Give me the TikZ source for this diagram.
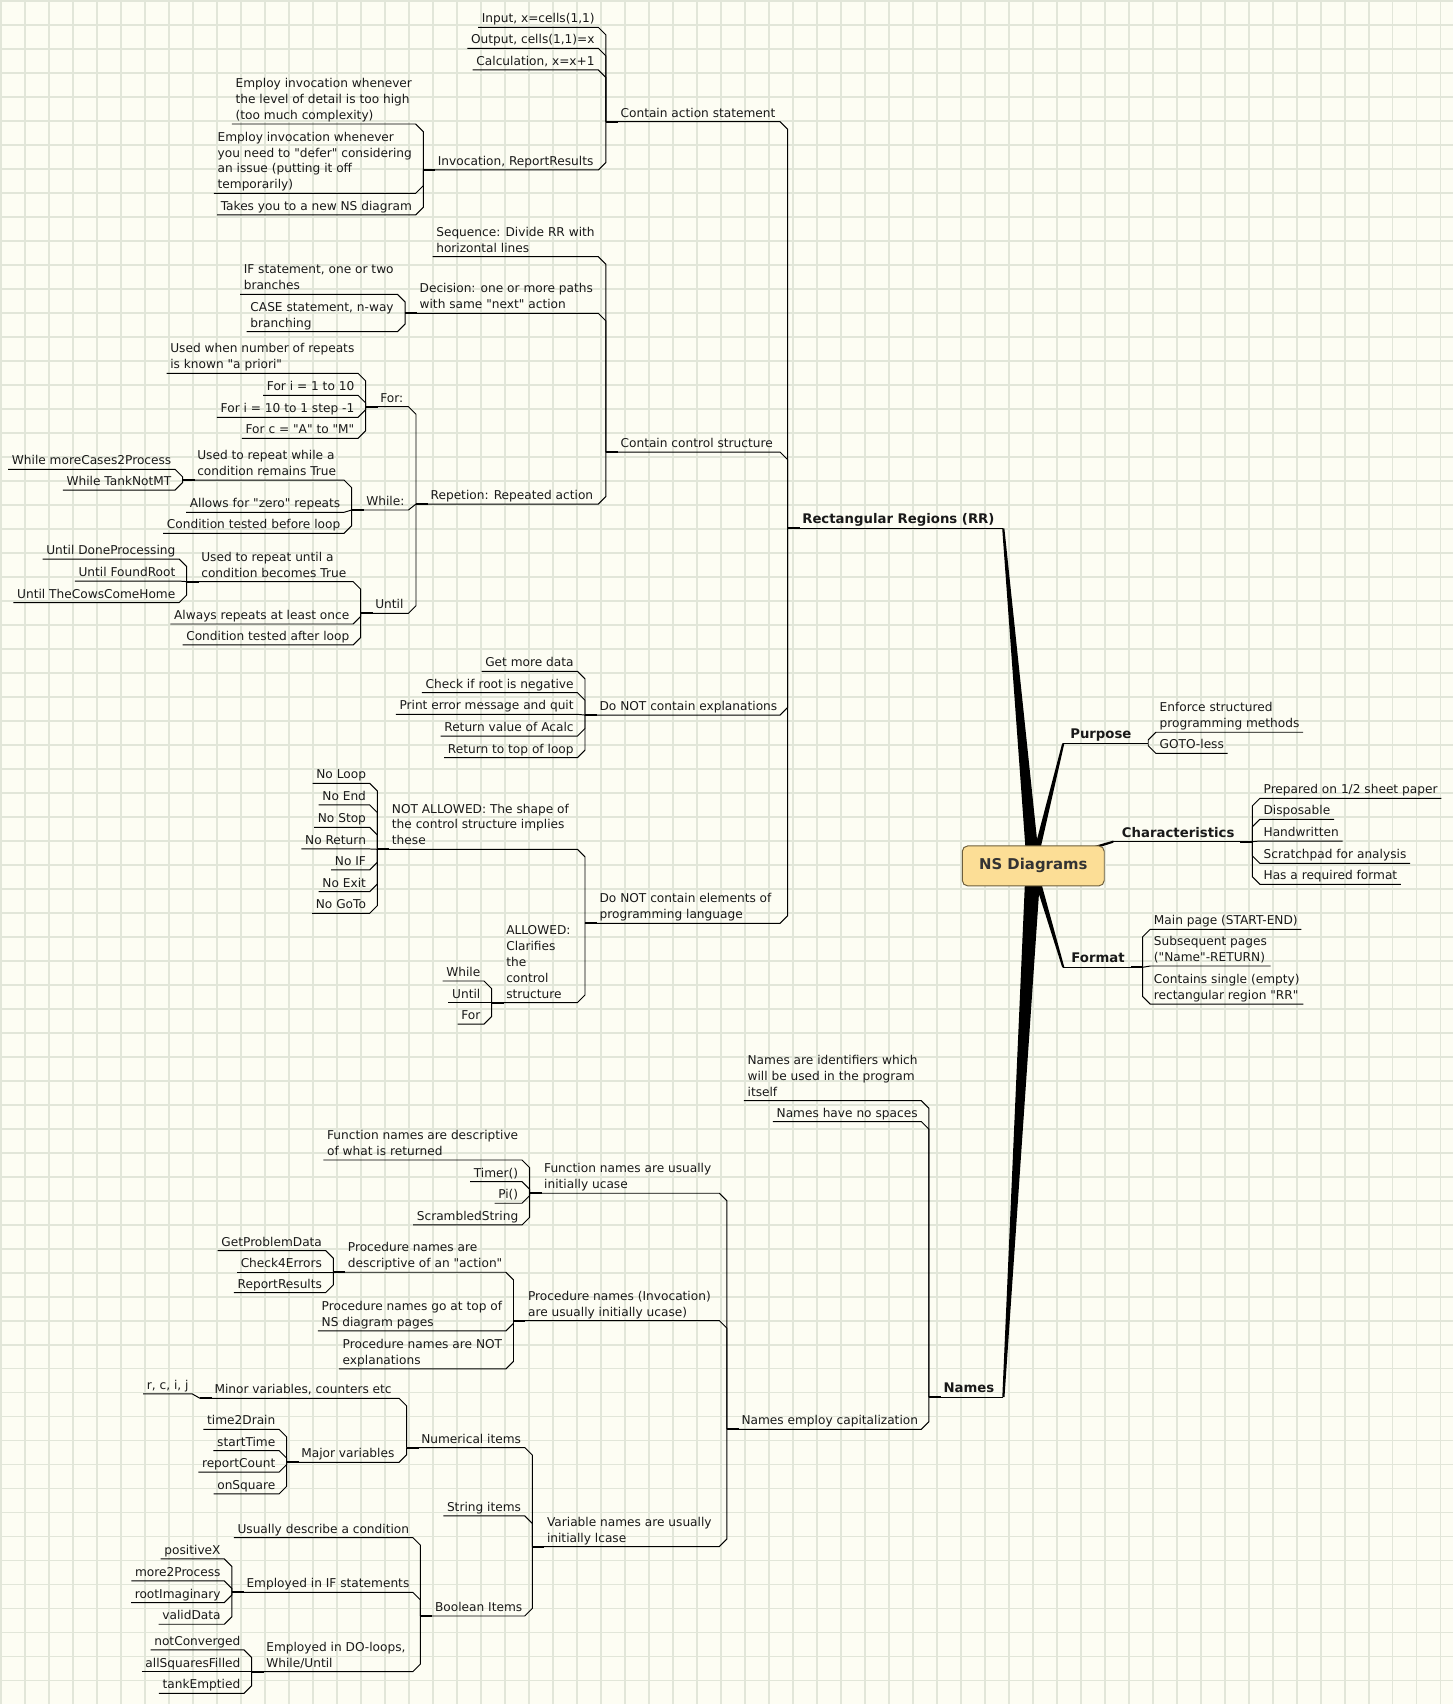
\documentclass[tikz,border=0pt]{standalone}
\usepackage{fontspec}
\setmainfont{DejaVu Sans}[Ligatures=TeXOff]
\usetikzlibrary{calc}

\definecolor{paper}{RGB}{253,253,243}
\definecolor{gridc}{RGB}{226,230,217}
\definecolor{boxfill}{RGB}{252,222,150}
\definecolor{boxline}{RGB}{110,95,60}
\newcommand{\lowstrut}{\rule[-3.7pt]{0pt}{3.7pt}}
\newcommand{\txt}{\fontsize{11.2}{14.6}\selectfont}
\newcommand{\topicfont}{\fontsize{12.2}{15}\selectfont\bfseries}

\tikzset{
    leaf/.style={inner xsep=3pt, inner ysep=0pt, align=left, font=\txt, text=black!90, execute at end node=\lowstrut},
    hub/.style={leaf, inner xsep=13pt},
    lleaf/.style={leaf, anchor=south east}, % child left of its parent
    rleaf/.style={leaf, anchor=south west}, % child right of its parent
    lhub/.style={hub, anchor=south west},
    topic/.style={hub, font=\topicfont},
    nsbox/.style={draw=boxline, fill=boxfill, rounded corners=5pt, line width=0.9pt, minimum width=130.6pt, minimum height=36.8pt, font=\fontsize{13.7}{16}\selectfont\bfseries, text=black!80},
    stub/.style={line width=1.8pt},
    % underline of a child, bevel, then up/down the bar of its parent
    tol/.style={to path={-- ($(\tikztotarget |- \tikztostart)+(-7,0)$) -- ++(7,#1) |- (\tikztotarget)}},
    tor/.style={to path={-- ($(\tikztotarget |- \tikztostart)+(7,0)$) -- ++(-7,#1) |- (\tikztotarget)}},
}

\begin{document}
\begin{tikzpicture}[x=1pt, y=-1pt, line width=0.9pt]
    % Define grid
    \def\gridstep{22.08} % grid cell size
    \useasboundingbox (0,0) rectangle (1337,1568);
    \fill[paper] (0,0) rectangle (1337,1568);
    \foreach \k in {0,...,60} {
        \draw[gridc, line width=1.4pt] ({0.92+\k*\gridstep},0) -- ++(0,1568); % vertical lines
    }
    \foreach \k in {0,...,71} {
        \draw[gridc, line width=1.4pt] (0,{0.92+\k*\gridstep}) -- ++(1337,0); % horizontal lines
    }

    % --- Central topic and the tapered branches ---
    \coordinate (nsc) at (950.8,796.8);
    \coordinate (rrtip) at (923.2,486.2);
    \coordinate (putip) at (978.4,684);
    \coordinate (chtip) at (1024.4,774.5);
    \coordinate (fotip) at (978.4,890.1);
    \coordinate (natip) at (923.3,1285.7);
    \fill ($(rrtip)+(-1,0)$) -- ($(rrtip)+(1,0)$) -- ($(nsc)+(6,0)$) -- ($(nsc)+(-6,0)$) -- cycle;
    \fill ($(putip)+(-1,0)$) -- ($(putip)+(1,0)$) -- ($(nsc)+(3,0)$) -- ($(nsc)+(-3,0)$) -- cycle;
    \fill ($(chtip)+(0,-1)$) -- ($(chtip)+(0,1)$) -- ($(nsc)+(0,2)$) -- ($(nsc)+(0,-2)$) -- cycle;
    \fill ($(fotip)+(-1,0)$) -- ($(fotip)+(1,0)$) -- ($(nsc)+(3,0)$) -- ($(nsc)+(-3,0)$) -- cycle;
    \fill ($(natip)+(-1,0)$) -- ($(natip)+(1,0)$) -- ($(nsc)+(7,0)$) -- ($(nsc)+(-7,0)$) -- cycle;
    \node[nsbox] (nsd) at (nsc) {NS Diagrams};

    % --- Rectangular Regions (RR) ---
    \node[topic, anchor=south west] (rr) at (724.8,486.2) {Rectangular Regions (RR)};
    \draw (rr.south west) -- (rrtip);

    % Contain action statement
    \node[lhub] (cas) at (557.6,112) {Contain action statement};
    \node[lleaf] (inp) at (550.6,25.2) {Input, x=cells(1,1)};
    \node[lleaf] (outp) at (550.6,44.5) {Output, cells(1,1)=x};
    \node[lleaf] (calcx) at (550.6,64.4) {Calculation, x=x+1};
    \node[lhub] (inv) at (389.5,156.4) {Invocation, ReportResults};
    \node[lleaf] (emp1) at (382.5,114.1) {Employ invocation whenever\\the level of detail is too high\\(too much complexity)};
    \node[lleaf] (emp2) at (382.5,177.9) {Employ invocation whenever\\you need to "defer" considering\\an issue (putting it off\\temporarily)};
    \node[lleaf] (takes) at (382.5,197.8) {Takes you to a new NS diagram};
    \draw (cas.south west) to[tol=7] (rr.south west);
    \draw (inp.south west) to[tol=7] (cas.south west);
    \draw (outp.south west) to[tol=7] (cas.south west);
    \draw (calcx.south west) to[tol=7] (cas.south west);
    \draw (inv.south west) to[tol=-7] (cas.south west);
    \draw (emp1.south west) to[tol=7] (inv.south west);
    \draw (emp2.south west) to[tol=-7] (inv.south west);
    \draw (takes.south west) to[tol=-7] (inv.south west);

    % Contain control structure
    \node[lhub] (ccs) at (557.6,416) {Contain control structure};
    \node[lleaf] (seq) at (550.6,236.2) {Sequence: Divide RR with\\horizontal lines};
    \node[lhub] (dec) at (372.7,288.3) {Decision: one or more paths\\with same "next" action};
    \node[lleaf] (ifs) at (365.7,270.8) {IF statement, one or two\\branches};
    \node[lleaf] (cases) at (365.7,305.2) {CASE statement, n-way\\branching};
    \node[lhub] (rep) at (382.8,463.8) {Repetion: Repeated action};
    \draw (ccs.south west) to[tol=7] (rr.south west);
    \draw (seq.south west) to[tol=7] (ccs.south west);
    \draw (dec.south west) to[tol=7] (ccs.south west);
    \draw (ifs.south west) to[tol=7] (dec.south west);
    \draw (cases.south west) to[tol=-7] (dec.south west);
    \draw (rep.south west) to[tol=-7] (ccs.south west);

    % For / While / Until
    \node[lhub] (for) at (336.5,374.2) {For:};
    \node[lleaf] (fkn) at (329.5,343.5) {Used when number of repeats\\is known "a priori"};
    \node[lleaf] (fa) at (329.5,363.8) {For i = 1 to 10};
    \node[lleaf] (fb) at (329.5,384) {For i = 10 to 1 step -1};
    \node[lleaf] (fc) at (329.5,403.3) {For c = "A" to "M"};
    \node[lhub] (whl) at (323.6,469.3) {While:};
    \node[lhub] (urw) at (168.1,441.7) {Used to repeat while a\\condition remains True};
    \node[lleaf] (wmc) at (161.1,431.9) {While moreCases2Process};
    \node[lleaf] (wtk) at (161.1,450.9) {While TankNotMT};
    \node[lleaf] (zero) at (316.6,471.4) {Allows for "zero" repeats};
    \node[lleaf] (ctb) at (316.6,490.8) {Condition tested before loop};
    \node[lhub] (unt) at (331.9,564.4) {Until};
    \node[lhub] (uru) at (171.8,535.2) {Used to repeat until a\\condition becomes True};
    \node[lleaf] (udp) at (164.8,514.4) {Until DoneProcessing};
    \node[lleaf] (ufr) at (164.8,534.7) {Until FoundRoot};
    \node[lleaf] (ucc) at (164.8,554.6) {Until TheCowsComeHome};
    \node[lleaf] (alw) at (324.9,574.2) {Always repeats at least once};
    \node[lleaf] (cta) at (324.9,593.5) {Condition tested after loop};
    \draw (for.south west) to[tol=7] (rep.south west);
    \draw (fkn.south west) to[tol=7] (for.south west);
    \draw (fa.south west) to[tol=7] (for.south west);
    \draw (fb.south west) to[tol=-7] (for.south west);
    \draw (fc.south west) to[tol=-7] (for.south west);
    \draw (whl.south west) to[tol=-5.5] (rep.south west);
    \draw (urw.south west) to[tol=7] (whl.south west);
    \draw (wmc.south west) to[tol=7] (urw.south west);
    \draw (wtk.south west) to[tol=-7] (urw.south west);
    \draw (zero.south west) to[tol=-2.1] (whl.south west);
    \draw (ctb.south west) to[tol=-7] (whl.south west);
    \draw (unt.south west) to[tol=-7] (rep.south west);
    \draw (uru.south west) to[tol=7] (unt.south west);
    \draw (udp.south west) to[tol=7] (uru.south west);
    \draw (ufr.south west) to[tol=0.5] (uru.south west);
    \draw (ucc.south west) to[tol=-7] (uru.south west);
    \draw (alw.south west) to[tol=-7] (unt.south west);
    \draw (cta.south west) to[tol=-7] (unt.south west);

    % Do NOT contain explanations
    \node[lhub] (dnce) at (538.3,658) {Do NOT contain explanations};
    \node[lleaf] (gmd) at (531.3,617.7) {Get more data};
    \node[lleaf] (crn) at (531.3,637.4) {Check if root is negative};
    \node[lleaf] (pem) at (531.3,657.3) {Print error message and quit};
    \node[lleaf] (rva) at (531.3,677.3) {Return value of Acalc};
    \node[lleaf] (rtl) at (531.3,697.2) {Return to top of loop};
    \draw (dnce.south west) to[tol=-7] (rr.south west);
    \draw (gmd.south west) to[tol=7] (dnce.south west);
    \draw (crn.south west) to[tol=7] (dnce.south west);
    \draw (pem.south west) to[tol=0.7] (dnce.south west);
    \draw (rva.south west) to[tol=-7] (dnce.south west);
    \draw (rtl.south west) to[tol=-7] (dnce.south west);

    % Do NOT contain elements of programming language
    \node[lhub] (dnel) at (538.3,849.6) {Do NOT contain elements of\\programming language};
    \node[lhub] (nall) at (347.2,781.5) {NOT ALLOWED: The shape of\\the control structure implies\\these};
    \node[lleaf] (nloop) at (340.2,720.8) {No Loop};
    \node[lleaf] (nend) at (340.2,740.7) {No End};
    \node[lleaf] (nstop) at (340.2,761.3) {No Stop};
    \node[lleaf] (nret) at (340.2,781.2) {No Return};
    \node[lleaf] (nif) at (340.2,800.5) {No IF};
    \node[lleaf] (nexit) at (340.2,820.5) {No Exit};
    \node[lleaf] (ngoto) at (340.2,840.4) {No GoTo};
    \node[lhub] (allw) at (452.4,922.6) {ALLOWED:\\Clarifies\\the\\control\\structure};
    \node[lleaf] (aw) at (445.4,902.7) {While};
    \node[lleaf] (au) at (445.4,922.6) {Until};
    \node[lleaf] (af) at (445.4,942.3) {For};
    \draw (dnel.south west) to[tol=-7] (rr.south west);
    \draw (nall.south west) to[tol=7] (dnel.south west);
    \draw (allw.south west) to[tol=-7] (dnel.south west);
    \foreach \c/\d in {nloop/7, nend/7, nstop/7, nret/0.3, nif/-7, nexit/-7, ngoto/-7} {
        \draw (\c.south west) to[tol=\d] (nall.south west);
    }
    \foreach \c/\d in {aw/7, au/0, af/-7} {
        \draw (\c.south west) to[tol=\d] (allw.south west);
    }

    % --- Purpose ---
    \node[topic, anchor=south east, inner xsep=15pt] (pur) at (1056.6,684) {Purpose};
    \draw (putip) -- (pur.south east);
    \node[rleaf] (enf) at (1063.6,673.8) {Enforce structured\\programming methods};
    \node[rleaf] (gtl) at (1063.6,693.2) {GOTO-less};
    \draw (enf.south east) to[tor=7] (pur.south east);
    \draw (gtl.south east) to[tor=-7] (pur.south east);

    % --- Characteristics ---
    \node[topic, anchor=south east, inner xsep=16pt] (chr) at (1152.3,774.5) {Characteristics};
    \draw (chtip) -- (chr.south east);
    \node[rleaf] (prep) at (1159.3,734.6) {Prepared on 1/2 sheet paper};
    \node[rleaf] (dsp) at (1159.3,753.9) {Disposable};
    \node[rleaf] (hnd) at (1159.3,773.9) {Handwritten};
    \node[rleaf] (scr) at (1159.3,794.4) {Scratchpad for analysis};
    \node[rleaf] (hrf) at (1159.3,813.7) {Has a required format};
    \foreach \c/\d in {prep/7, dsp/7, hnd/0.6, scr/-7, hrf/-7} {
        \draw (\c.south east) to[tor=\d] (chr.south east);
    }

    % --- Format ---
    \node[topic, anchor=south east, inner xsep=16pt] (frm) at (1051.4,890.1) {Format};
    \draw (fotip) -- (frm.south east);
    \node[rleaf] (mpg) at (1058.4,855.1) {Main page (START-END)};
    \node[rleaf] (spg) at (1058.4,888.9) {Subsequent pages\\("Name"-RETURN)};
    \node[rleaf] (csr) at (1058.4,924) {Contains single (empty)\\rectangular region "RR"};
    \foreach \c/\d in {mpg/7, spg/1.2, csr/-7} {
        \draw (\c.south east) to[tor=\d] (frm.south east);
    }

    % --- Names ---
    \node[topic, anchor=south west] (nam) at (854.8,1285.7) {Names};
    \draw (nam.south west) -- (natip);
    \node[lleaf] (nid) at (847.8,1012.8) {Names are identifiers which\\will be used in the program\\itself};
    \node[lleaf] (nsp) at (847.8,1032.1) {Names have no spaces};
    \node[lhub] (cap) at (668.9,1315.2) {Names employ capitalization};
    \draw (nid.south west) to[tol=7] (nam.south west);
    \draw (nsp.south west) to[tol=7] (nam.south west);
    \draw (cap.south west) to[tol=-7] (nam.south west);

    % Function names
    \node[lhub] (fun) at (487.3,1098) {Function names are usually\\initially ucase};
    \node[lleaf] (fdw) at (480.3,1067.4) {Function names are descriptive\\of what is returned};
    \node[lleaf] (tmr) at (480.3,1087.3) {Timer()};
    \node[lleaf] (pif) at (480.3,1107.2) {Pi()};
    \node[lleaf] (scs) at (480.3,1127.2) {ScrambledString};
    \draw (fun.south west) to[tol=7] (cap.south west);
    \foreach \c/\d in {fdw/7, tmr/7, pif/-7, scs/-7} {
        \draw (\c.south west) to[tol=\d] (fun.south west);
    }

    % Procedure names
    \node[lhub] (proc) at (472.5,1215.2) {Procedure names (Invocation)\\are usually initially ucase)};
    \node[lhub] (pda) at (306.7,1170.7) {Procedure names are\\descriptive of an "action"};
    \node[lleaf] (gpd) at (299.7,1150.8) {GetProblemData};
    \node[lleaf] (c4e) at (299.7,1170.7) {Check4Errors};
    \node[lleaf] (rrs) at (299.7,1189.4) {ReportResults};
    \node[lleaf] (pgt) at (465.5,1224.7) {Procedure names go at top of\\NS diagram pages};
    \node[lleaf] (pnx) at (465.5,1259.7) {Procedure names are NOT\\explanations};
    \draw (proc.south west) to[tol=7] (cap.south west);
    \draw (pda.south west) to[tol=7] (proc.south west);
    \draw (pgt.south west) to[tol=-7] (proc.south west);
    \draw (pnx.south west) to[tol=-7] (proc.south west);
    \foreach \c/\d in {gpd/7, c4e/0, rrs/-7} {
        \draw (\c.south west) to[tol=\d] (pda.south west);
    }

    % Variable names
    \node[lhub] (var) at (489.9,1423.1) {Variable names are usually\\initially lcase};
    \node[lhub] (num) at (374.2,1332) {Numerical items};
    \node[lhub] (minv) at (184,1286.7) {Minor variables, counters etc};
    \node[lleaf] (rcij) at (177,1282.7) {r, c, i, j};
    \node[lhub] (majv) at (263.8,1345.6) {Major variables};
    \node[lleaf] (t2d) at (256.8,1315.2) {time2Drain};
    \node[lleaf] (stt) at (256.8,1334.8) {startTime};
    \node[lleaf] (rpc) at (256.8,1354.7) {reportCount};
    \node[lleaf] (onq) at (256.8,1374.7) {onSquare};
    \node[lleaf] (stri) at (482.9,1394.9) {String items};
    \node[lhub] (bool) at (386.9,1487) {Boolean Items};
    \node[lleaf] (udc) at (379.9,1414.9) {Usually describe a condition};
    \node[lhub] (eif) at (213.4,1465.2) {Employed in IF statements};
    \node[lleaf] (psx) at (206.4,1434.5) {positiveX};
    \node[lleaf] (m2p) at (206.4,1454.7) {more2Process};
    \node[lleaf] (rim) at (206.4,1474.6) {rootImaginary};
    \node[lleaf] (vld) at (206.4,1494.6) {validData};
    \node[lhub] (edo) at (231.6,1538.2) {Employed in DO-loops,\\While/Until};
    \node[lleaf] (ncv) at (224.6,1518.2) {notConverged};
    \node[lleaf] (asf) at (224.6,1538.2) {allSquaresFilled};
    \node[lleaf] (tke) at (224.6,1558.1) {tankEmptied};
    \draw (var.south west) to[tol=-7] (cap.south west);
    \draw (num.south west) to[tol=7] (var.south west);
    \draw (stri.south west) to[tol=7] (var.south west);
    \draw (bool.south west) to[tol=-7] (var.south west);
    \draw (minv.south west) to[tol=7] (num.south west);
    \draw (rcij.south west) to[tol=4] (minv.south west);
    \draw (majv.south west) to[tol=-7] (num.south west);
    \foreach \c/\d in {t2d/7, stt/7, rpc/-7, onq/-7} {
        \draw (\c.south west) to[tol=\d] (majv.south west);
    }
    \draw (udc.south west) to[tol=7] (bool.south west);
    \draw (eif.south west) to[tol=7] (bool.south west);
    \draw (edo.south west) to[tol=-7] (bool.south west);
    \foreach \c/\d in {psx/7, m2p/7, rim/-7, vld/-7} {
        \draw (\c.south west) to[tol=\d] (eif.south west);
    }
    \foreach \c/\d in {ncv/7, asf/0, tke/-7} {
        \draw (\c.south west) to[tol=\d] (edo.south west);
    }

    % Thick stubs where a topic meets its bar
    \foreach \h in {rr,cas,inv,ccs,dec,rep,for,whl,urw,unt,uru,dnce,dnel,nall,allw,nam,cap,fun,proc,pda,var,num,minv,majv,bool,eif,edo} {
        \draw[stub] (\h.south west) -- ++(11,0);
    }
    \foreach \h in {chr,frm} {
        \draw[stub] (\h.south east) -- ++(-11,0);
    }
\end{tikzpicture}
\end{document}
